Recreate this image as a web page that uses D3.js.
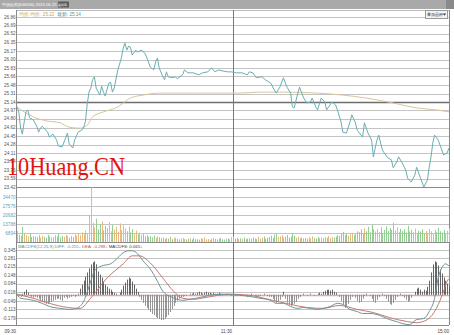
<!DOCTYPE html>
<html><head><meta charset="utf-8">
<script src="https://cdn.jsdelivr.net/npm/d3@7"></script>
<style>html,body{margin:0;padding:0;background:#fff;overflow:hidden}svg{display:block;font-family:"Liberation Sans",Arial,sans-serif}</style>
</head><body><svg id="c" width="454" height="335"></svg>
<script>
// ---------- DATA ----------
const priceTicks = [26.86,26.69,26.52,26.35,26.17,26.00,25.83,25.66,25.48,25.31,25.14,24.97,24.80,24.62,24.45,24.28,24.11,23.94,23.76,23.59,23.42];
const prevClose = 25.14;
const volumeTicks = [34470,27576,20682,13788,6894];
const macdTicks = [0.345,0.281,0.215,0.148,0.084,0.018,-0.049,-0.113,-0.179];
const timeLabels = ["09:30","11:30","15:00"];

const priceMinutes = [0,1,2,3,4,5,6,7,9,11,
 12,13,14,17,18,20,22,23,25,27,
 28,29,31,32,34,36,37,38,39,40,
 41,42,43,44,46,47,48,49,51,52,
 53,54,56,58,59,60,61,62,63,64,
 66,67,69,71,72,74,76,77,78,79,
 81,82,83,84,86,88,89,92,93,95,
 98,101,103,106,108,110,112,114,117,119,
 122,125,128,129,131,133,136,138,141,143,
 144,146,148,150,152,153,154,156,157,159,
 161,163,164,166,167,169,171,172,175,177,
 178,180,181,183,185,186,188,189,192,193,
 195,197,198,199,200,201,202,203,204,206,
 208,209,211,212,214,216,217,219,221,222,
 224,226,228,229,230,231,232,234,236,237,
 239,240];
const priceValues = [25.04,24.94,24.61,24.49,24.74,24.94,24.98,24.82,24.78,24.65,
 24.53,24.61,24.65,24.53,24.43,24.49,24.37,24.25,24.23,24.41,
 24.51,24.29,24.21,24.37,24.53,24.57,24.63,24.74,25.10,25.34,
 25.42,25.59,25.65,25.42,25.28,25.46,25.34,25.26,25.52,25.54,
 25.34,25.42,25.79,26.03,26.23,26.33,26.19,26.27,26.25,26.09,
 26.19,26.15,26.19,26.13,26.05,25.85,25.79,25.95,26.03,25.83,
 25.65,25.59,25.75,25.65,25.63,25.65,25.61,25.69,25.79,25.73,
 25.73,25.69,25.73,25.75,25.83,25.75,25.79,25.77,25.75,25.75,
 25.73,25.73,25.69,25.75,25.73,25.63,25.65,25.59,25.52,25.38,
 25.32,25.44,25.63,25.44,25.32,25.04,25.02,25.32,25.44,25.24,
 25.12,25.14,25.22,25.04,24.98,25.22,25.14,24.98,25.14,25.08,
 24.98,24.74,24.53,24.51,24.74,24.88,24.72,24.57,24.43,24.72,
 24.51,24.37,24.03,24.21,24.37,24.47,24.31,24.17,24.11,24.01,
 23.97,23.81,23.93,24.03,23.91,23.76,23.60,23.52,23.66,23.82,
 23.62,23.42,23.56,23.82,24.03,24.31,24.47,24.37,24.17,24.07,
 24.11,24.21];

const avgMinutes = [0,4,9,16,24,29,35,39,42,48,56,63,70,79,98,124,134,148,167,181,194,209,222,233,240];
const avgValues = [25.04,24.94,24.84,24.76,24.72,24.63,24.61,24.67,24.84,24.94,25.04,25.22,25.28,25.32,25.32,25.32,25.34,25.34,25.32,25.28,25.22,25.12,25.02,24.98,24.94];

const volume = [8500,5600,4800,11500,6200,5400,4300,6900,3800,4600,
 4100,3600,5200,3300,4700,3900,3100,5600,4200,3500,
 3800,5100,4300,6200,3600,4800,3900,5400,4500,3200,
 4400,3700,5800,4900,6300,5200,7400,6100,8800,6700,
 20500,42000,14600,11200,17800,9600,13500,15800,8900,12400,
 10800,15200,8300,13100,9400,11600,7800,14200,9100,12800,
 10500,8200,11900,7400,9800,6300,8700,5900,7200,5400,
 6100,4200,5300,3800,4600,3500,5100,3200,4400,3700,
 2800,3500,2400,3100,2600,3900,2200,2900,3300,2500,
 2100,2700,3200,2300,1900,2600,2800,2000,3400,2400,
 2200,1800,2900,2500,3600,2100,2300,1700,2600,3100,
 2400,2000,2700,3300,2200,1900,2500,2800,2100,3700,
 4200,2600,3100,2300,2900,2500,3400,2100,2700,3000,
 2400,3600,2800,2200,3900,2600,3100,4300,2500,3300,
 3700,4800,3200,5600,6100,3900,4400,5200,3600,4100,
 5400,3500,4200,6800,4700,3300,3800,2900,3400,2700,
 3100,2500,3600,2900,4400,3200,2600,3800,2800,3500,
 2900,3700,3300,4500,3000,3900,3400,4200,5300,4600,
 6200,7800,5400,6600,4800,5900,7100,5200,6400,8300,
 7600,9800,6900,10400,8200,11600,7400,13500,9800,8100,
 10200,7600,11400,6800,9200,12100,8400,10600,9300,14900,
 8900,11300,7700,10100,8400,9600,7200,12400,8100,9300,
 7400,10200,6600,8800,7900,9700,6400,8500,7100,9900,
 8300,6800,9400,7600,10800,8200,7300,9100,6900,8600,10500];

const diffMinutes = [0,2,6,9,14,18,24,29,33,37,41,43,47,52,56,59,62,64,67,70,74,78,81,85,89,92,96,102,107,113,118,124,129,135,141,144,148,152,156,159,163,167,170,174,178,181,185,189,192,196,200,203,207,211,214,218,222,226,229,232,234,236,238,240];
const diffValues = [0.004,-0.027,-0.035,-0.043,-0.066,-0.090,-0.105,-0.113,-0.105,-0.051,0.105,0.183,0.222,0.238,0.285,0.324,0.339,0.339,0.316,0.261,0.199,0.105,0.027,-0.012,-0.035,-0.043,-0.035,-0.020,-0.004,0.004,0.004,-0.004,-0.012,-0.027,-0.043,-0.066,-0.066,-0.090,-0.105,-0.098,-0.105,-0.113,-0.105,-0.090,-0.066,-0.074,-0.113,-0.129,-0.144,-0.144,-0.152,-0.168,-0.191,-0.207,-0.222,-0.230,-0.191,-0.183,-0.129,-0.027,0.129,0.207,0.238,0.222];

const deaMinutes = [0,9,18,28,35,41,50,59,64,68,74,81,87,92,98,105,118,129,142,152,161,170,179,189,198,207,217,222,228,233,237,239,240];
const deaValues = [0.004,-0.027,-0.066,-0.098,-0.105,-0.025,0.129,0.238,0.300,0.300,0.246,0.129,0.027,-0.027,-0.035,-0.020,0.004,-0.004,-0.043,-0.074,-0.098,-0.105,-0.082,-0.113,-0.137,-0.176,-0.207,-0.215,-0.191,-0.105,0.027,0.105,0.125];

const macdHist = [0,-0.008,-0.016,0.008,0.023,0.039,0.016,-0.008,-0.016,-0.023,-0.016,-0.023,-0.031,
 -0.039,-0.055,-0.062,-0.070,-0.070,-0.062,-0.055,-0.047,-0.039,-0.031,
 -0.031,-0.039,-0.047,-0.023,-0.016,-0.031,-0.023,-0.016,-0.008,-0.016,-0.008,0.008,
 0.047,0.078,0.109,0.140,0.172,0.203,0.234,0.250,0.257,0.234,0.179,0.156,0.133,0.101,0.078,0.062,0.047,0.039,0.023,0.016,
 0.008,0,0.016,0.039,0.070,
 0.094,0.117,0.133,0.125,0.101,0.078,0.047,0.023,
 -0.016,-0.039,-0.062,-0.086,-0.101,-0.117,-0.133,-0.148,-0.156,-0.172,-0.179,-0.187,-0.195,-0.195,-0.187,-0.172,-0.156,-0.133,-0.109,-0.086,-0.062,-0.047,-0.031,-0.023,
 -0.016,-0.008,-0.008,0,0.008,0.008,0.016,0.008,0.016,0.023,0.016,0.008,0.016,0.023,0.016,0.016,0.008,0.016,0.008,0.008,0.016,0.008,0.008,0,0.008,0,0,-0.008,0,
 -0.008,-0.008,0,-0.008,-0.008,0,-0.008,-0.016,-0.008,0.008,0,-0.008,-0.008,-0.016,-0.008,0,0.008,0,-0.008,-0.016,
 -0.016,-0.031,-0.047,-0.062,-0.055,-0.039,-0.016,0.023,-0.031,-0.062,-0.078,-0.086,-0.078,-0.070,-0.055,-0.031,-0.016,0,0.008,0,
 -0.008,0,0.008,0,-0.008,0,0.008,0.016,0.008,0.023,0.031,0.039,0.039,0.031,0.039,0.023,0.016,0,-0.016,-0.047,
 -0.078,-0.101,-0.094,-0.070,-0.039,-0.016,0,-0.023,-0.047,-0.062,-0.055,-0.031,-0.008,0.008,0,-0.008,-0.031,-0.055,-0.062,-0.039,
 -0.016,0,0.008,-0.008,-0.031,-0.055,-0.070,-0.078,-0.062,-0.039,-0.016,0,0.008,-0.008,-0.023,-0.039,-0.055,-0.047,-0.023,0,
 0.023,0.047,0.055,0.039,0.023,0.039,0.031,0.062,0.109,0.172,0.234,0.257,0.250,0.226,0.195,0.164,0.133,0.109,0.086,0.070];

const titleText = "中国医药(600056) 2023-06-25";
const titleDay = "星期四";
const legendAvg = "均价 均价: 25.22";
const legendLast = "最新: 25.14";
const macdLegend = [["MACDFS(12,26,9) DIFF: -0.255↓ ","#3f9a9c"],["DEA: -0.288↓ ","#c0504a"],["MACDFS: 0.065↓","#333"]];
const watermark = "10Huang.CN";

// ---------- LAYOUT ----------
const svg = d3.select('#c');
const X0 = 17, X1 = 449;
const TOP = 10, PT = 17, PB = 187, VB = 242, MT = 250, MB = 318, FOOT = 325;
const x = d3.scaleLinear().domain([0,240]).range([X0,X1]);
const yP = d3.scaleLinear().domain([23.42,26.86]).range([PB,PT]);
const yV = d3.scaleLinear().domain([0,42130]).range([VB,PB]);
const yM = d3.scaleLinear().domain([-0.179,0.345]).range([MB,MT]);
const FS = 4.6;

// title bar
svg.append('rect').attr('x',0).attr('y',0).attr('width',454).attr('height',9).attr('fill','#a9a9a9');
svg.append('rect').attr('x',446).attr('y',0).attr('width',8).attr('height',9).attr('fill','#8a8a8a');
const tt = svg.append('text').attr('x',2).attr('y',6.4).attr('font-size',4.1).attr('fill','#fff').text(titleText);
const ttEnd = 2 + tt.node().getComputedTextLength() + 1.5;
svg.append('rect').attr('x',ttEnd).attr('y',1.5).attr('width',11).attr('height',6).attr('fill','#5a5a5a');
svg.append('text').attr('x',ttEnd+0.5).attr('y',6.3).attr('font-size',3.4).attr('fill','#fff').text(titleDay);

// price grid
const g = svg.append('g');
g.selectAll('line.pg').data(priceTicks).enter().append('line')
  .attr('x1',X0).attr('x2',X1)
  .attr('y1',d=>Math.round(yP(d))+0.5).attr('y2',d=>Math.round(yP(d))+0.5)
  .attr('stroke',d=>d===prevClose?'#6e6e6e':(d===23.42?'#8a8a8a':'#c4c4c4'))
  .attr('stroke-width',d=>d===prevClose?1.6:1);
g.selectAll('text.pl').data(priceTicks).enter().append('text')
  .attr('x',15.5).attr('y',d=>yP(d)+1.6).attr('text-anchor','end')
  .attr('font-size',FS).attr('fill','#555').text(d=>d.toFixed(2));

// volume grid
g.selectAll('line.vg').data(volumeTicks).enter().append('line')
  .attr('x1',X0).attr('x2',X1)
  .attr('y1',d=>Math.round(yV(d))+0.5).attr('y2',d=>Math.round(yV(d))+0.5)
  .attr('stroke','#c4c4c4');
g.selectAll('text.vl').data(volumeTicks).enter().append('text')
  .attr('x',15.5).attr('y',d=>yV(d)+1.6).attr('text-anchor','end')
  .attr('font-size',FS).attr('fill','#5f9fbf').text(d=>d);

// macd grid
g.selectAll('line.mg').data(macdTicks).enter().append('line')
  .attr('x1',X0).attr('x2',X1)
  .attr('y1',d=>Math.round(yM(d))+0.5).attr('y2',d=>Math.round(yM(d))+0.5)
  .attr('stroke','#c4c4c4');
g.selectAll('text.ml').data(macdTicks).enter().append('text')
  .attr('x',15.5).attr('y',d=>yM(d)+1.6).attr('text-anchor','end')
  .attr('font-size',FS).attr('fill','#555').text(d=>d.toFixed(3));
g.append('line').attr('x1',X0).attr('x2',X1).attr('y1',Math.round(yM(0))+0.5).attr('y2',Math.round(yM(0))+0.5)
  .attr('stroke','#e0a8a8').attr('stroke-width',1.3);

// frame
const fr = svg.append('g').attr('stroke','#8a8a8a').attr('fill','none');
fr.append('line').attr('x1',X0-0.5).attr('x2',X0-0.5).attr('y1',TOP).attr('y2',FOOT);
fr.append('line').attr('x1',X1+0.5).attr('x2',X1+0.5).attr('y1',TOP).attr('y2',FOOT);
fr.append('line').attr('x1',X0).attr('x2',X1).attr('y1',TOP+0.5).attr('y2',TOP+0.5).attr('stroke','#bbb');
fr.append('line').attr('x1',X0).attr('x2',X1).attr('y1',VB+0.5).attr('y2',VB+0.5);
fr.append('line').attr('x1',0).attr('x2',X1).attr('y1',FOOT+0.5).attr('y2',FOOT+0.5);
fr.append('line').attr('x1',Math.round(x(120))+0.5).attr('x2',Math.round(x(120))+0.5).attr('y1',TOP).attr('y2',FOOT).attr('stroke','#777');

// volume bars
const pInterp = d3.scaleLinear().domain(priceMinutes).range(priceValues);
svg.append('g').selectAll('rect').data(volume).enter().append('rect')
  .attr('x',(d,i)=>Math.round(x(i)))
  .attr('y',d=>yV(d)).attr('width',1).attr('height',d=>VB-yV(d))
  .attr('fill',(d,i)=> (i===0 || pInterp(i)>=pInterp(i-1)) ? '#e6b97f' : '#93cf93');

// price lines
const avgPts = avgMinutes.map((m,i)=>[m,avgValues[i]]);
const pricePts = priceMinutes.map((m,i)=>[m,priceValues[i]]);
svg.append('path').datum(avgPts)
  .attr('d',d3.line().x(d=>x(d[0])).y(d=>yP(d[1])).curve(d3.curveMonotoneX))
  .attr('fill','none').attr('stroke','#d9c59c').attr('stroke-width',1);
svg.append('path').datum(pricePts)
  .attr('d',d3.line().x(d=>x(d[0])).y(d=>yP(d[1])))
  .attr('fill','none').attr('stroke','#6aaeb3').attr('stroke-width',1);

// macd histogram
svg.append('g').selectAll('line').data(macdHist).enter().append('line')
  .attr('x1',(d,i)=>Math.round(x(i))+0.5).attr('x2',(d,i)=>Math.round(x(i))+0.5)
  .attr('y1',yM(0)).attr('y2',d=>yM(d))
  .attr('stroke',d=>d>=0?'#555':'#8a8a8a').attr('stroke-width',0.9);

// DIFF / DEA
const diffPts = diffMinutes.map((m,i)=>[m,diffValues[i]]);
const deaPts = deaMinutes.map((m,i)=>[m,deaValues[i]]);
svg.append('path').datum(deaPts)
  .attr('d',d3.line().x(d=>x(d[0])).y(d=>yM(d[1])).curve(d3.curveMonotoneX))
  .attr('fill','none').attr('stroke','#c47a72').attr('stroke-width',1);
svg.append('path').datum(diffPts)
  .attr('d',d3.line().x(d=>x(d[0])).y(d=>yM(d[1])).curve(d3.curveMonotoneX))
  .attr('fill','none').attr('stroke','#6f9497').attr('stroke-width',1);

// legends
const la = svg.append('text').attr('x',19).attr('y',15.5).attr('font-size',FS).attr('fill','#c9a557').text(legendAvg);
const laEnd = 19 + la.node().getComputedTextLength() + 2.5;
svg.append('text').attr('x',laEnd).attr('y',15.5).attr('font-size',FS).attr('fill','#3f9a9c').text(legendLast);
const ml = svg.append('text').attr('x',18).attr('y',248.3).attr('font-size',4.3);
macdLegend.forEach(([t,c])=>ml.append('tspan').attr('fill',c).text(t));

// button top-right
svg.append('rect').attr('x',425.5).attr('y',10.5).attr('width',22).attr('height',8).attr('fill','#f2f2f2').attr('stroke','#999');
svg.append('text').attr('x',427).attr('y',16.3).attr('font-size',4.2).attr('fill','#333').text('叠加品种');
svg.append('path').attr('d','M443,13.5 L446,13.5 L444.5,15.8 Z').attr('fill','#333');

// time labels
const tPos = [X0-1, x(120)-1, X1];
svg.selectAll('text.tl').data(timeLabels).enter().append('text')
  .attr('x',(d,i)=>tPos[i]).attr('y',332.5).attr('text-anchor','end')
  .attr('font-size',FS).attr('fill','#444').text(d=>d);

// watermark
svg.append('text').attr('x',7).attr('y',175).attr('font-family','"Liberation Serif","Times New Roman",serif')
  .attr('font-size',25).attr('fill','#e3140e').attr('textLength',118).attr('lengthAdjust','spacingAndGlyphs')
  .text(watermark);
</script></body></html>
